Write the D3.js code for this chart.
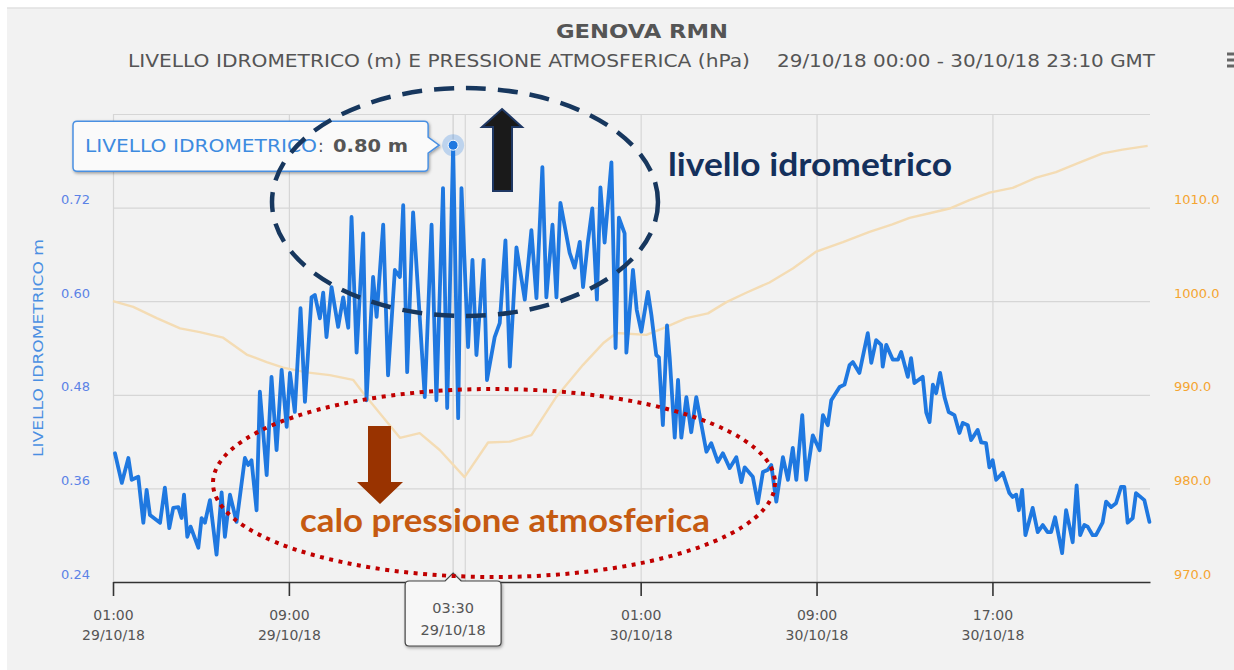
<!DOCTYPE html>
<html>
<head>
<meta charset="utf-8">
<script src="https://cdn.jsdelivr.net/npm/d3@7"></script>
<style>
  html, body { margin: 0; padding: 0; background: #fff; }
  svg { display: block; }
</style>
</head>
<body>
<div id="chart"></div>
<script>
const W = 1234, H = 670;
const MARGIN = {TOP: 114, BOTTOM: 88, LEFT: 113, RIGHT: 84};

// hours after 29/10/18 01:00 (local axis time)
const levelHours = [0.09,0.40,0.70,0.85,1.15,1.38,1.53,1.68,2.14,2.36,2.56,2.74,2.97,3.12,3.23,3.38,3.53,3.88,4.03,4.18,
  4.41,4.71,4.94,5.09,5.32,5.62,6.00,6.15,6.30,6.53,6.68,6.99,7.21,7.44,7.67,7.90,8.05,8.27,8.53,8.73,
  9.03,9.18,9.41,9.56,9.71,9.94,10.24,10.47,10.70,10.85,11.08,11.38,11.53,11.83,11.99,12.29,12.51,12.82,13.05,13.20,
  13.38,13.65,14.18,14.49,14.71,15.01,15.20,15.47,15.70,15.85,16.15,16.35,16.53,16.86,17.01,17.36,17.59,17.85,18.05,18.35,
  18.73,19.03,19.26,19.53,19.71,19.99,20.17,20.35,20.77,21.00,21.23,21.38,21.60,21.80,22.01,22.17,22.36,22.67,22.86,23.01,
  23.27,23.35,23.65,23.82,24.03,24.33,24.49,24.71,24.83,25.01,25.20,25.32,25.55,25.70,25.85,26.08,26.30,26.53,26.99,27.21,
  27.51,27.74,28.05,28.35,28.58,28.73,29.10,29.33,29.56,29.79,29.94,30.17,30.47,30.70,30.92,31.08,31.35,31.53,31.83,32.14,
  32.29,32.51,32.67,33.05,33.27,33.50,33.65,33.95,34.33,34.49,34.71,34.94,35.01,35.17,35.47,35.70,35.85,36.15,36.30,36.45,
  36.83,36.99,37.14,37.29,37.44,37.62,37.82,38.01,38.27,38.50,38.65,38.88,39.03,39.33,39.49,39.71,39.86,40.01,40.17,40.47,
  40.77,40.92,41.08,41.20,41.35,41.50,41.83,42.06,42.29,42.51,42.67,42.85,43.17,43.35,43.65,43.83,43.99,44.18,44.33,44.56,
  44.71,45.01,45.17,45.40,45.62,45.85,46.00,46.15,46.38,46.53,46.91,47.14];
const levelValues = [0.405,0.367,0.399,0.371,0.375,0.316,0.358,0.326,0.316,0.361,0.309,0.335,0.336,0.322,0.352,0.298,0.311,0.284,0.322,0.316,
  0.345,0.275,0.355,0.298,0.352,0.317,0.399,0.390,0.396,0.332,0.484,0.377,0.503,0.409,0.512,0.439,0.508,0.458,0.591,0.471,
  0.605,0.608,0.578,0.611,0.554,0.618,0.567,0.605,0.566,0.708,0.534,0.687,0.473,0.631,0.580,0.698,0.505,0.640,0.631,0.723,
  0.509,0.714,0.477,0.698,0.473,0.745,0.463,0.800,0.450,0.745,0.541,0.653,0.531,0.653,0.499,0.554,0.572,0.678,0.516,0.669,
  0.602,0.691,0.604,0.772,0.605,0.698,0.605,0.726,0.662,0.643,0.676,0.618,0.676,0.719,0.602,0.746,0.675,0.778,0.540,0.707,
  0.687,0.534,0.640,0.589,0.561,0.612,0.582,0.531,0.528,0.441,0.569,0.528,0.425,0.499,0.425,0.477,0.432,0.477,0.407,0.418,
  0.394,0.405,0.386,0.400,0.368,0.387,0.375,0.341,0.381,0.384,0.390,0.343,0.400,0.371,0.412,0.371,0.454,0.371,0.428,0.409,
  0.454,0.441,0.473,0.490,0.493,0.518,0.522,0.508,0.559,0.521,0.550,0.544,0.516,0.544,0.525,0.525,0.535,0.503,0.527,0.495,
  0.503,0.457,0.445,0.493,0.482,0.508,0.477,0.458,0.454,0.431,0.444,0.441,0.422,0.435,0.419,0.418,0.387,0.396,0.371,0.380,
  0.354,0.349,0.352,0.332,0.358,0.300,0.335,0.304,0.313,0.304,0.304,0.323,0.277,0.332,0.291,0.364,0.300,0.313,0.311,0.300,
  0.300,0.316,0.343,0.336,0.341,0.362,0.362,0.316,0.322,0.354,0.345,0.317];

const pressHours = [0.00,0.92,1.99,3.05,3.95,5.01,6.08,6.99,7.74,8.80,9.86,10.92,11.38,13.05,13.95,14.86,15.99,17.06,18.05,19.03,
  20.17,21.38,22.29,22.90,24.26,25.01,26.08,27.06,27.90,28.80,29.86,30.92,31.99,33.20,34.41,35.45,36.23,37.14,38.05,38.95,
  39.86,40.92,41.99,42.89,43.95,45.01,45.92,47.06];
const pressValues = [1000.0,999.4,998.2,997.1,996.7,996.1,994.3,993.5,992.9,992.4,992.1,991.6,990.2,985.4,985.9,984.1,981.2,984.9,985.0,985.7,
  989.8,993.2,995.5,996.6,996.4,997.1,998.2,998.7,999.9,1000.9,1002.0,1003.5,1005.3,1006.3,1007.4,1008.2,1008.9,1009.4,1009.9,1010.8,
  1011.6,1012.1,1013.2,1013.8,1014.8,1015.8,1016.2,1016.6];

const levelTicks = [0.24, 0.36, 0.48, 0.60, 0.72];
const levelGrid = [0.24, 0.36, 0.48, 0.60, 0.72, 0.84];
const pressTicks = [970, 980, 990, 1000, 1010];
const timeTickHours = [0, 8, 16, 24, 32, 40];

const START = Date.UTC(2018, 9, 29, 1, 0);
const END = Date.UTC(2018, 9, 31, 0, 10);
const toDate = h => new Date(START + h * 3600e3);

const hoverIndex = levelValues.indexOf(0.800);
const hoverTimeLabel = ["03:30", "29/10/18"];

const svg = d3.select("#chart").append("svg")
  .attr("width", W).attr("height", H)
  .style("font-family", "'DejaVu Sans', Verdana, sans-serif");

const defs = svg.append("defs");
const sh = defs.append("filter").attr("id", "shadow").attr("x", "-10%").attr("y", "-20%").attr("width", "130%").attr("height", "160%");
sh.append("feDropShadow").attr("dx", 1).attr("dy", 1.5).attr("stdDeviation", 1.5).attr("flood-color", "#000").attr("flood-opacity", 0.35);

// panel
svg.append("rect").attr("x", 7).attr("y", 8).attr("width", W - 7).attr("height", H - 8).attr("fill", "#f2f2f2");
svg.append("line").attr("x1", 7).attr("x2", W).attr("y1", 8).attr("y2", 8).attr("stroke", "#e0e0e0").attr("stroke-width", 1.5);

const x = d3.scaleUtc().domain([START, END]).range([MARGIN.LEFT, W - MARGIN.RIGHT]);
const yL = d3.scaleLinear().domain([0.24, 0.84]).range([H - MARGIN.BOTTOM, MARGIN.TOP]);
const yR = d3.scaleLinear().domain([970, 1020]).range([H - MARGIN.BOTTOM, MARGIN.TOP]);
const plotW = W - MARGIN.RIGHT - MARGIN.LEFT;
const plotH = H - MARGIN.BOTTOM - MARGIN.TOP;

// titles
svg.append("text").attr("x", 642).attr("y", 38).attr("text-anchor", "middle")
  .attr("font-size", 20).attr("font-weight", "bold").attr("fill", "#555")
  .attr("textLength", 172).attr("lengthAdjust", "spacingAndGlyphs")
  .text("GENOVA RMN");
svg.append("text").attr("x", 128).attr("y", 67)
  .attr("font-size", 18).attr("fill", "#555")
  .attr("textLength", 622).attr("lengthAdjust", "spacingAndGlyphs")
  .text("LIVELLO IDROMETRICO (m) E PRESSIONE ATMOSFERICA (hPa)");
svg.append("text").attr("x", 777).attr("y", 67)
  .attr("font-size", 18).attr("fill", "#555")
  .attr("textLength", 378).attr("lengthAdjust", "spacingAndGlyphs")
  .text("29/10/18 00:00 - 30/10/18 23:10 GMT");

// menu icon
[54, 60, 66].forEach(yy => {
  svg.append("rect").attr("x", 1227).attr("y", yy - 1.5).attr("width", 12).attr("height", 3).attr("fill", "#666");
});

// grid
const grid = svg.append("g").attr("transform", `translate(${MARGIN.LEFT},0)`)
  .call(d3.axisLeft(yL).tickValues(levelGrid).tickSize(-plotW).tickFormat(""));
grid.select(".domain").remove();
grid.selectAll("line").attr("stroke", "#d6d6d6").attr("stroke-width", 1.2);

const vgrid = svg.append("g").attr("transform", `translate(0,${MARGIN.TOP})`)
  .call(d3.axisBottom(x).tickValues(timeTickHours.map(toDate)).tickSize(plotH).tickFormat(""));
vgrid.select(".domain").remove();
vgrid.selectAll("line").attr("stroke", "#d6d6d6").attr("stroke-width", 1.2);

// crosshair
const hx = x(toDate(levelHours[hoverIndex]));
svg.append("line").attr("x1", hx).attr("x2", hx).attr("y1", MARGIN.TOP).attr("y2", H - MARGIN.BOTTOM)
  .attr("stroke", "#cfcfcf").attr("stroke-width", 1.2);

// pressure line
svg.append("path")
  .datum(pressHours.map((h, i) => [toDate(h), pressValues[i]]))
  .attr("fill", "none").attr("stroke", "#f4dcb4").attr("stroke-width", 2.4)
  .attr("stroke-linejoin", "round")
  .attr("d", d3.line().x(d => x(d[0])).y(d => yR(d[1])));

// level line
svg.append("path")
  .datum(levelHours.map((h, i) => [toDate(h), levelValues[i]]))
  .attr("fill", "none").attr("stroke", "#1f78e0").attr("stroke-width", 3.8)
  .attr("stroke-linejoin", "round").attr("stroke-linecap", "round")
  .attr("d", d3.line().x(d => x(d[0])).y(d => yL(d[1])));

// left axis labels
const la = svg.append("g").attr("transform", `translate(${MARGIN.LEFT},0)`)
  .call(d3.axisLeft(yL).tickValues(levelTicks).tickSize(0).tickPadding(23).tickFormat(d3.format(".2f")));
la.select(".domain").remove();
la.selectAll("text").attr("y", -8).attr("fill", "#5b82e6").attr("font-size", 13)
  .style("font-family", "'DejaVu Sans', Verdana, sans-serif");

// right axis labels
const ra = svg.append("g").attr("transform", `translate(${W - MARGIN.RIGHT},0)`)
  .call(d3.axisRight(yR).tickValues(pressTicks).tickSize(0).tickPadding(24).tickFormat(d3.format(".1f")));
ra.select(".domain").remove();
ra.selectAll("text").attr("y", -8).attr("fill", "#f5a531").attr("font-size", 13)
  .style("font-family", "'DejaVu Sans', Verdana, sans-serif");

// left axis title
svg.append("text")
  .attr("transform", `translate(43,${(MARGIN.TOP + H - MARGIN.BOTTOM) / 2}) rotate(-90)`)
  .attr("text-anchor", "middle").attr("font-size", 14).attr("fill", "#4a8fe2")
  .attr("textLength", 218).attr("lengthAdjust", "spacingAndGlyphs")
  .text("LIVELLO IDROMETRICO m");

// x axis (the label under the hover tooltip is covered, as in the source)
const fmtT = d3.utcFormat("%H:%M"), fmtD = d3.utcFormat("%d/%m/%y");
const xa = svg.append("g").attr("transform", `translate(0,${H - MARGIN.BOTTOM})`)
  .call(d3.axisBottom(x).tickValues(timeTickHours.map(toDate)).tickSize(14).tickSizeOuter(0).tickFormat(""));
xa.select(".domain").attr("stroke", "#333").attr("stroke-width", 1.6);
xa.selectAll(".tick line").attr("stroke", "#333").attr("stroke-width", 1.6);
xa.selectAll(".tick").filter(d => Math.abs(x(d) - hx) > 60).append("text")
  .attr("text-anchor", "middle").attr("fill", "#555").attr("font-size", 14)
  .style("font-family", "'DejaVu Sans', Verdana, sans-serif")
  .each(function(d) {
    const t = d3.select(this);
    t.append("tspan").attr("x", 0).attr("y", 38).text(fmtT(d));
    t.append("tspan").attr("x", 0).attr("y", 58).text(fmtD(d));
  });

// hover marker
const hy = yL(levelValues[hoverIndex]);
svg.append("circle").attr("cx", hx).attr("cy", hy).attr("r", 11).attr("fill", "#1f78e0").attr("fill-opacity", 0.25);
svg.append("circle").attr("cx", hx).attr("cy", hy).attr("r", 5).attr("fill", "#1f78e0").attr("stroke", "#fff").attr("stroke-width", 1);

// y tooltip
{
  const r = 4, x1 = 73, x2 = hx - 25, y1 = hy - 24, y2 = hy + 26, ax = hx - 14;
  const p = `M${x1 + r},${y1} H${x2 - r} Q${x2},${y1} ${x2},${y1 + r} V${hy - 8} L${ax},${hy} L${x2},${hy + 8} V${y2 - r} Q${x2},${y2} ${x2 - r},${y2} H${x1 + r} Q${x1},${y2} ${x1},${y2 - r} V${y1 + r} Q${x1},${y1} ${x1 + r},${y1} Z`;
  svg.append("path").attr("d", p).attr("fill", "#fafafa").attr("stroke", "#4a90e2").attr("stroke-width", 1.5)
    .attr("filter", "url(#shadow)");
  const ty = hy + 7;
  svg.append("text").attr("x", 85).attr("y", ty).attr("font-size", 17).attr("fill", "#3d8be0")
    .attr("textLength", 232).attr("lengthAdjust", "spacingAndGlyphs").text("LIVELLO IDROMETRICO");
  svg.append("text").attr("x", 318).attr("y", ty).attr("font-size", 17).attr("fill", "#555").text(":");
  svg.append("text").attr("x", 333).attr("y", ty).attr("font-size", 17).attr("font-weight", "bold").attr("fill", "#555")
    .attr("textLength", 75).attr("lengthAdjust", "spacingAndGlyphs")
    .text(d3.format(".2f")(levelValues[hoverIndex]) + " m");
}

// x tooltip
{
  const r = 4, x1 = hx - 48, x2 = hx + 48, y1 = H - MARGIN.BOTTOM - 1, y2 = y1 + 65, ay = y1 - 8;
  const p = `M${x1 + r},${y1} H${hx - 8} L${hx},${ay} L${hx + 8},${y1} H${x2 - r} Q${x2},${y1} ${x2},${y1 + r} V${y2 - r} Q${x2},${y2} ${x2 - r},${y2} H${x1 + r} Q${x1},${y2} ${x1},${y2 - r} V${y1 + r} Q${x1},${y1} ${x1 + r},${y1} Z`;
  svg.append("path").attr("d", p).attr("fill", "#f7f7f7").attr("stroke", "#444").attr("stroke-width", 1.2)
    .attr("filter", "url(#shadow)");
  const t = svg.append("text").attr("text-anchor", "middle").attr("fill", "#555").attr("font-size", 14.5);
  t.append("tspan").attr("x", hx).attr("y", y1 + 32).text(hoverTimeLabel[0]);
  t.append("tspan").attr("x", hx).attr("y", y1 + 54).text(hoverTimeLabel[1]);
}

// annotations
svg.append("ellipse").attr("cx", 465).attr("cy", 202).attr("rx", 193).attr("ry", 114)
  .attr("fill", "none").attr("stroke", "#17375e").attr("stroke-width", 4.5).attr("stroke-dasharray", "20 12");

svg.append("path")
  .attr("d", "M502,109 L522,127 L512,127 L512,191 L493,191 L493,127 L482,127 Z")
  .attr("fill", "#1a1a1a").attr("stroke", "#1f3864").attr("stroke-width", 2);

svg.append("text").attr("x", 668).attr("y", 176)
  .attr("font-family", "Lato, 'Open Sans', sans-serif").attr("font-weight", "bold").attr("font-size", 33)
  .attr("fill", "#14305c").attr("textLength", 284).attr("lengthAdjust", "spacingAndGlyphs")
  .text("livello idrometrico");

svg.append("ellipse").attr("cx", 494).attr("cy", 483).attr("rx", 281).attr("ry", 94)
  .attr("fill", "none").attr("stroke", "#c00000").attr("stroke-width", 4).attr("stroke-dasharray", "4 5.5");

svg.append("path")
  .attr("d", "M368,426 L391,426 L391,482 L403,482 L380,504 L357,482 L368,482 Z")
  .attr("fill", "#993300");

svg.append("text").attr("x", 300).attr("y", 532)
  .attr("font-family", "Lato, 'Open Sans', sans-serif").attr("font-weight", "bold").attr("font-size", 33)
  .attr("fill", "#c55a11").attr("textLength", 410).attr("lengthAdjust", "spacingAndGlyphs")
  .text("calo pressione atmosferica");
</script>
</body>
</html>
